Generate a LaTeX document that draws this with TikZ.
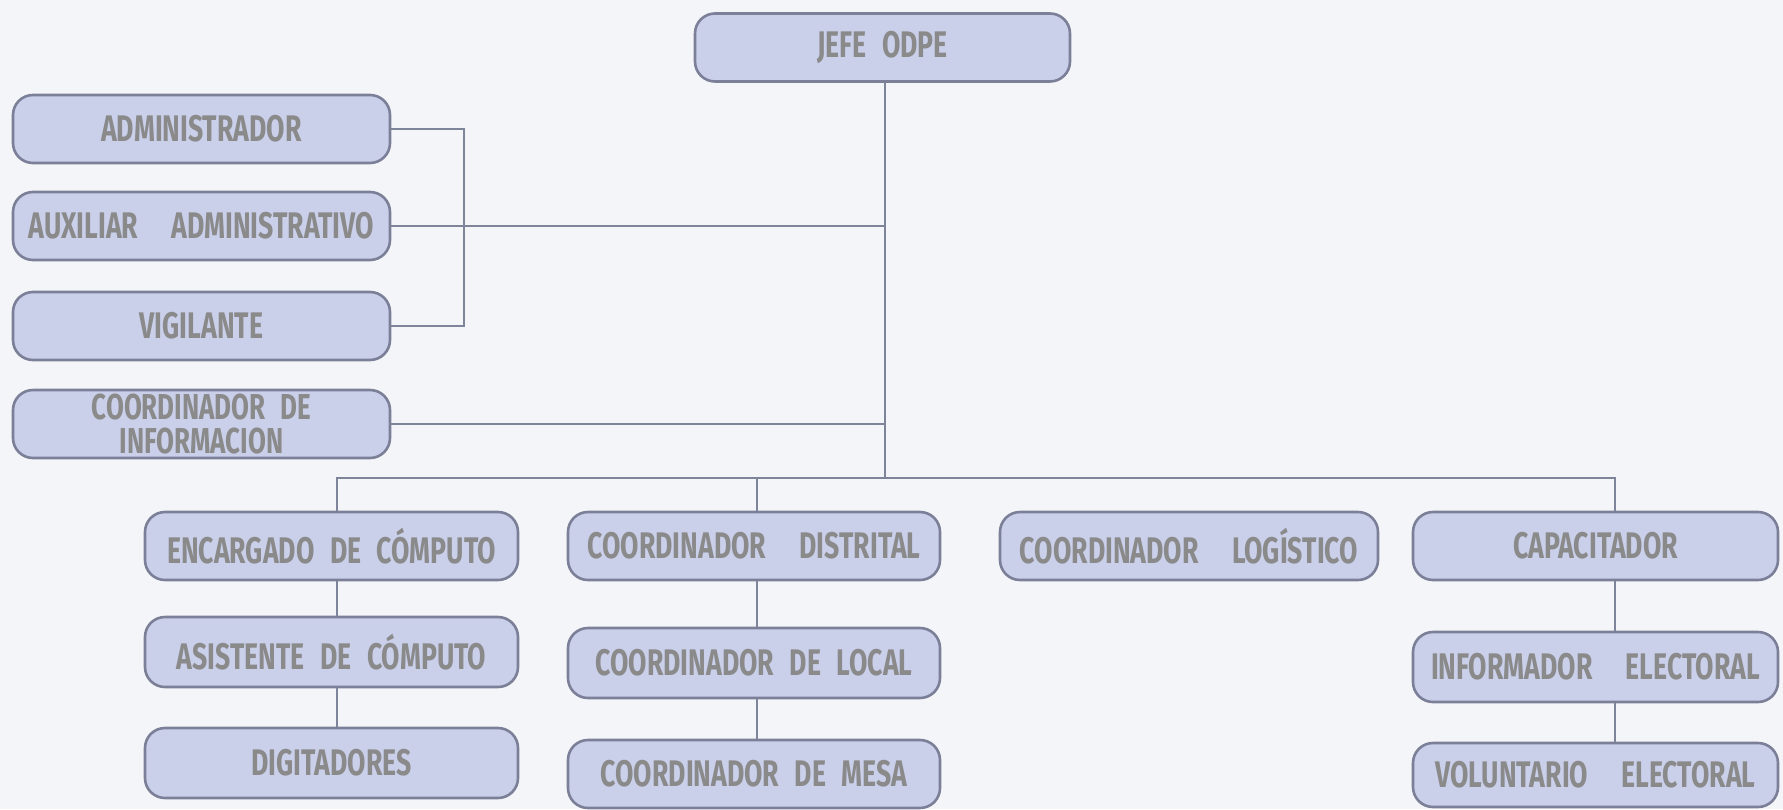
\documentclass[tikz,border=0pt]{standalone}
\usepackage{fontspec}
\setmainfont{Fira Sans}[FakeStretch=0.72]
\definecolor{bg}{HTML}{F4F5F8}
\definecolor{boxfill}{HTML}{CACFEA}
\definecolor{boxline}{HTML}{7B8098}
\definecolor{connline}{HTML}{7E8499}
\definecolor{txt}{HTML}{8A8A8A}
\newcommand\sg{\hspace{0.42em}}
\newcommand\wg{\hspace{0.9em}}
\begin{document}
\begin{tikzpicture}[x=1pt,y=-1pt,
  box/.style={draw=boxline, line width=2.6pt, fill=boxfill, rounded corners=20pt,
    minimum height=68pt, inner sep=0pt, text=txt, align=center,
    font=\fontsize{37}{32}\selectfont\bfseries},
  conn/.style={draw=connline, line width=2.4pt}]
\fill[bg] (0,0) rectangle (1783,809);
\useasboundingbox (0,0) rectangle (1783,809);

\node[box, minimum width=375pt] (jefe) at (882.5,47.5) {JEFE\sg ODPE};
\node[box, minimum width=377pt] (admin) at (201.5,129) {ADMINISTRADOR};
\node[box, minimum width=377pt] (aux) at (201.5,226) {AUXILIAR\wg ADMINISTRATIVO};
\node[box, minimum width=377pt] (vig) at (201.5,326) {VIGILANTE};
\node[box, minimum width=377pt, font=\fontsize{36}{34}\selectfont\bfseries] (info) at (201.5,424) {COORDINADOR\sg DE\\INFORMACION};

\node[box, minimum width=373pt] (enc) at (331.5,546) {ENCARGADO\sg DE\sg CÓMPUTO};
\node[box, minimum width=373pt, minimum height=70pt] (asis) at (331.5,652) {ASISTENTE\sg DE\sg CÓMPUTO};
\node[box, minimum width=373pt, minimum height=70pt] (dig) at (331.5,763) {DIGITADORES};

\node[box, minimum width=372pt] (dist) at (754,546) {COORDINADOR\wg DISTRITAL};
\node[box, minimum width=372pt, minimum height=70pt] (local) at (754,663) {COORDINADOR\sg DE\sg LOCAL};
\node[box, minimum width=372pt, minimum height=68pt] (mesa) at (754,774) {COORDINADOR\sg DE\sg MESA};

\node[box, minimum width=378pt] (log) at (1189,546) {COORDINADOR\wg LOGÍSTICO};

\node[box, minimum width=365pt] (cap) at (1595.5,546) {CAPACITADOR};
\node[box, minimum width=365pt, minimum height=70pt] (inf) at (1595.5,667) {INFORMADOR\wg ELECTORAL};
\node[box, minimum width=365pt, minimum height=64pt] (vol) at (1595.5,775) {VOLUNTARIO\wg ELECTORAL};

\coordinate (bus) at (885,478);
\coordinate (busL) at (337,478);
\coordinate (busR) at (1615,478);
\coordinate (distx) at (757,478);
\coordinate (brk) at (464,0);

\draw[conn] (jefe.south -| bus) -- (bus);
\draw[conn] (aux.east) -- (aux.east -| bus);
\draw[conn] (admin.east) -| (brk |- vig.east) -- (vig.east);
\draw[conn] (info.east) -- (info.east -| bus);
\draw[conn] (enc.north -| busL) |- (busR) -- (cap.north -| busR);
\draw[conn] (dist.north -| distx) -- (distx);
\draw[conn] (enc.south -| busL) -- (asis.north -| busL);
\draw[conn] (asis.south -| busL) -- (dig.north -| busL);
\draw[conn] (dist.south -| distx) -- (local.north -| distx);
\draw[conn] (local.south -| distx) -- (mesa.north -| distx);
\draw[conn] (cap.south -| busR) -- (inf.north -| busR);
\draw[conn] (inf.south -| busR) -- (vol.north -| busR);
\end{tikzpicture}
\end{document}
